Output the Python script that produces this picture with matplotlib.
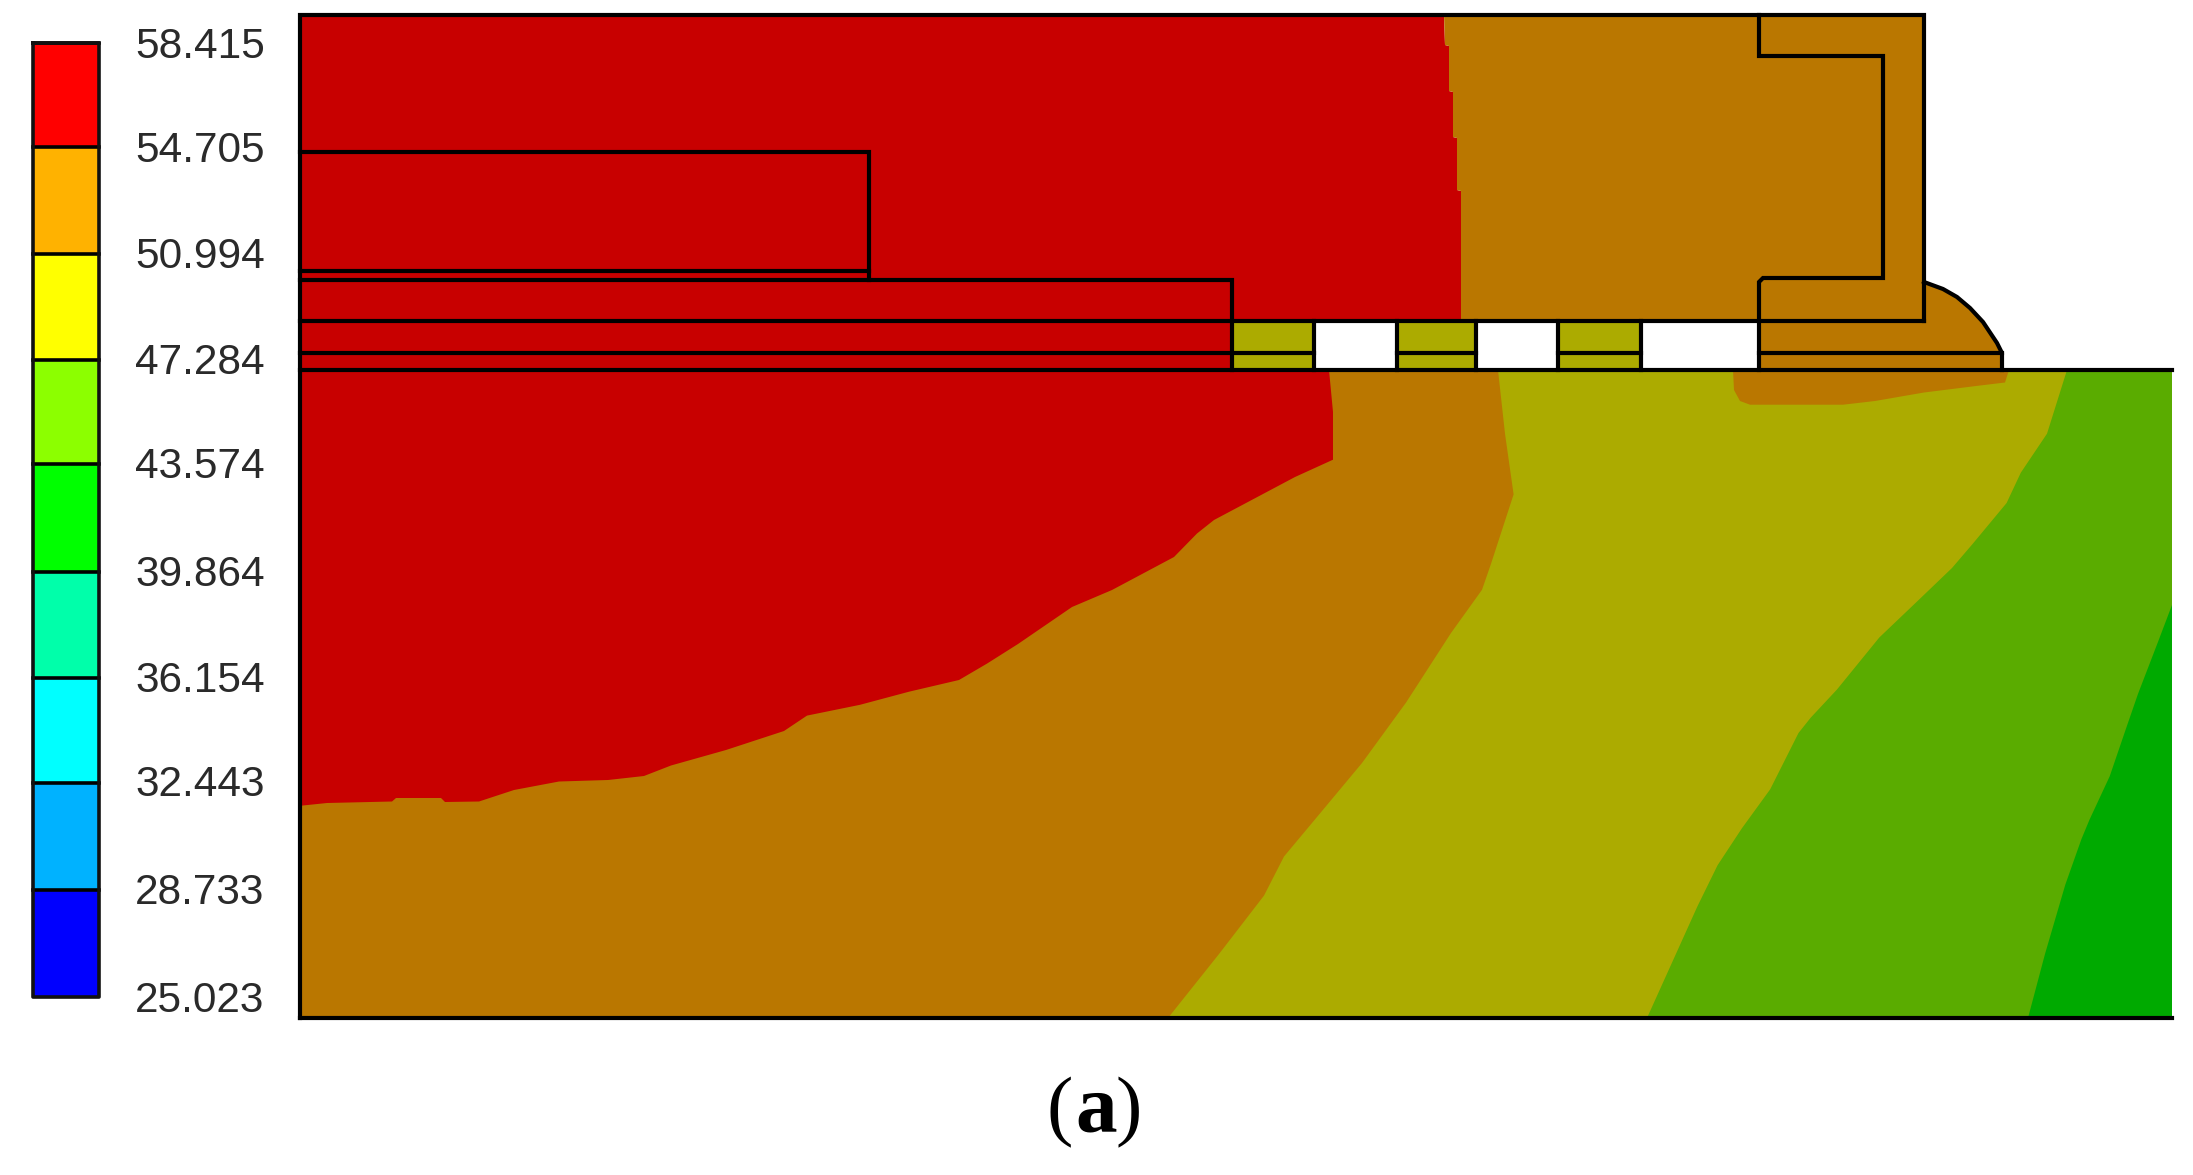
import matplotlib

matplotlib.use("Agg")
import matplotlib.pyplot as plt

# ===================== Data (in image pixels) =====================
bar_edges = [43, 146.7, 254, 360, 464, 571.7, 678, 782.7, 890, 997]
bar_colors = ["#FF0000", "#FFB200", "#FFFF00", "#8CFF00", "#00FF00",
              "#00FFAA", "#00FFFF", "#00B2FF", "#0000FF"]
bar_labels = ["58.415", "54.705", "50.994", "47.284", "43.574",
              "39.864", "36.154", "32.443", "28.733", "25.023"]
label_y = [42.7, 146, 253, 359, 463, 570.7, 677, 780.7, 888, 996]

# contour zone boundaries below the die
red_x = [1329, 1333, 1333, 1295, 1214, 1197, 1174, 1112, 1072, 1018, 987, 959, 909, 860,
         807, 784, 726, 671, 644, 608, 559, 514, 479, 445, 441, 396, 392, 327, 300]
red_y = [370, 412, 459.7, 477, 520, 533.5, 557, 590, 607, 644, 663.6, 680, 691.7, 704.8,
         715.6, 731, 750, 765.5, 776, 780, 781.5, 790, 801.5, 802, 798, 798, 801.5, 803, 805.8]
orange_x = [1498, 1505, 1513.6, 1491, 1482, 1451, 1406, 1362, 1322, 1284, 1264, 1219, 1168]
orange_y = [370, 433.7, 494.4, 563.8, 589.8, 633, 702.6, 763, 811, 856.5, 895.6, 954, 1018]
olive_x = [2067, 2047, 2020.8, 2006.6, 1972.3, 1952, 1915.7, 1879.3, 1836.9, 1810.6,
           1798.5, 1770.2, 1741.9, 1717.6, 1697.4, 1647]
olive_y = [370, 433.7, 472.7, 503, 544.3, 568, 602.8, 637.5, 689.6, 717.8,
           733, 789.3, 828.3, 865.2, 906.4, 1018]
green_x = [2172, 2158, 2138, 2126, 2109.7, 2089.5, 2081.4, 2065.3, 2045, 2028]
green_y = [605, 641.9, 693.9, 728.6, 776.3, 819.7, 839.2, 884.7, 954, 1018]
blob_x = [1733, 1734, 1740, 1750, 1843, 1875, 1924, 1976, 2005, 2009]
blob_y = [370, 390, 401, 404.7, 404.7, 401, 392.5, 386, 382.5, 370]

# contour boundary in the upper block
top_x = [1444, 1445, 1449, 1449, 1453, 1453, 1457, 1457, 1461, 1461]
top_y = [15, 45, 46, 91, 92, 137, 138, 190, 191, 320.5]

# fillet at the right of the cap
fillet_x = [1924, 1943, 1957, 1970, 1983, 1997, 2002, 2002]
fillet_y = [282, 289, 297, 308, 322, 343, 353, 370]

# device cells
cell_edges = [1232, 1313.6, 1397, 1475.5, 1557.6, 1641, 1759]
cell_colors = ["#ACAB00", "white", "#ACAB00", "white", "#ACAB00", "white"]

C_RED = "#C80000"
C_ORANGE = "#BA7700"
C_OLIVE = "#ACAB00"
C_GREEN = "#5AAC00"
C_DARK = "#00AA00"

# ===================== Figure =====================
fig = plt.figure(figsize=(21.93, 11.75), dpi=100)
fig.patch.set_facecolor("white")
ax = fig.add_axes([0, 0, 1, 1])
ax.set_xlim(0, 2193)
ax.set_ylim(1175, 0)
ax.axis("off")

LW = 3.0

# ===================== Colour bar =====================
for i, c in enumerate(bar_colors):
    ax.fill([32.5, 99, 99, 32.5], [bar_edges[i], bar_edges[i], bar_edges[i + 1], bar_edges[i + 1]],
            color=c, lw=0, zorder=1)
    ax.plot([32.5, 99], [bar_edges[i], bar_edges[i]], color="black", lw=2.6, zorder=2)
ax.plot([32.5, 99, 99, 32.5, 32.5], [43, 43, 997, 997, 43], color="#111111", lw=2.6, zorder=2)

for lab, y in zip(bar_labels, label_y):
    ax.text(200, y, lab, ha="center", va="center_baseline", fontsize=30.5,
            family="Liberation Sans", color="#2A2A2A")

# ===================== Contour zones =====================
ax.fill([300, 2172, 2172, 300], [370, 370, 1018, 1018], color=C_DARK, lw=0, zorder=1)
ax.fill([300, 2172] + green_x + [300], [370, 370] + green_y + [1018], color=C_GREEN, lw=0, zorder=1.1)
ax.fill(olive_x + [300, 300], olive_y + [1018, 370], color=C_OLIVE, lw=0, zorder=1.2)
ax.fill(orange_x + [300, 300], orange_y + [1018, 370], color=C_ORANGE, lw=0, zorder=1.3)
ax.fill(red_x + [300], red_y + [370], color=C_RED, lw=0, zorder=1.4)
ax.fill(blob_x, blob_y, color=C_ORANGE, lw=0, zorder=1.3)

# upper block
ax.fill([300] + top_x + [300], [15] + top_y + [320.5], color=C_RED, lw=0, zorder=1)
ax.fill(top_x + [1924, 1924], top_y + [320.5, 15], color=C_ORANGE, lw=0, zorder=1)
ax.fill([300, 1232, 1232, 300], [320.5, 320.5, 370, 370], color=C_RED, lw=0, zorder=1)
for i, c in enumerate(cell_colors):
    ax.fill([cell_edges[i], cell_edges[i + 1], cell_edges[i + 1], cell_edges[i]],
            [320.5, 320.5, 370, 370], color=c, lw=0, zorder=1)
ax.fill([1759, 1924] + fillet_x + [1759], [320.5, 282] + fillet_y + [370], color=C_ORANGE, lw=0, zorder=1)

# ===================== Outlines =====================
outline = dict(color="black", lw=LW, zorder=3, solid_capstyle="projecting", solid_joinstyle="miter")
ax.plot([300, 300, 1924, 1924], [1018, 15, 15, 320.5], **outline)
ax.plot([300, 2172], [370, 370], **outline)
ax.plot([300, 2172], [1018, 1018], **outline)
ax.plot([300, 869, 869], [152, 152, 279.5], **outline)
ax.plot([300, 869], [271, 271], **outline)
ax.plot([300, 1232, 1232], [279.5, 279.5, 370], **outline)
ax.plot([300, 1924], [320.5, 320.5], **outline)
for a, b in [(300, 1313.6), (1397, 1475.5), (1557.6, 1641), (1759, 2002)]:
    ax.plot([a, b], [353, 353], **outline)
for x in cell_edges[1:-1]:
    ax.plot([x, x], [320.5, 370], **outline)
ax.plot([1759, 1759, 1883, 1883, 1763, 1759, 1759], [15, 56, 56, 278, 278, 282, 370], **outline)
ax.plot(fillet_x, fillet_y, **outline)

# ===================== Caption =====================
for s, x, w, fs in [("(", 1060, "normal", 57), ("a", 1096, "bold", 60), (")", 1129, "normal", 57)]:
    ax.text(x, 1131, s, ha="center", va="baseline", fontsize=fs,
            family="Liberation Serif", fontweight=w, color="black")

fig.savefig("out.png", dpi=100)
